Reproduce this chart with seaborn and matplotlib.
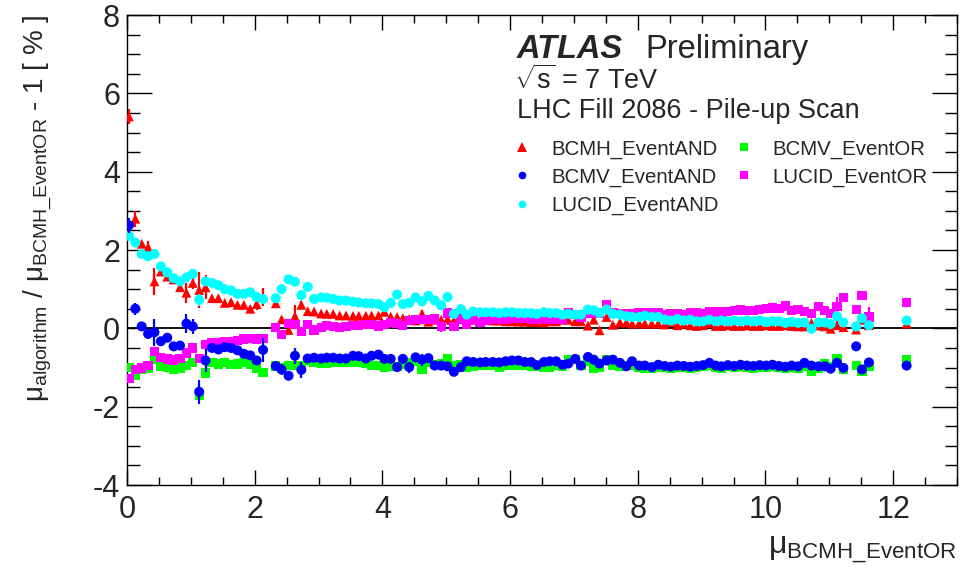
import matplotlib
matplotlib.use("Agg")
import matplotlib.pyplot as plt
from matplotlib.lines import Line2D
from matplotlib.ticker import MultipleLocator
import seaborn as sns
import pandas as pd

# mu_BCMH_EventOR for every measurement step of the pile-up scan
mu = [
    0.03, 0.13, 0.23, 0.33, 0.43, 0.53, 0.63, 0.73, 0.83, 0.93, 1.03, 1.13, 1.23, 1.33, 1.43, 1.53, 1.63, 1.73, 1.83, 1.93, 2.03, 2.13,
    2.33, 2.42, 2.53, 2.63, 2.73, 2.83, 2.93, 3.04, 3.13, 3.23, 3.33, 3.43, 3.54, 3.63, 3.74, 3.83, 3.94, 4.03, 4.13,
    4.23, 4.32, 4.42, 4.52, 4.62, 4.72, 4.82, 4.92, 5.02, 5.12, 5.23, 5.32, 5.42, 5.53, 5.62, 5.73, 5.83, 5.93, 6.03, 6.13, 6.23,
    6.33, 6.42, 6.53, 6.62, 6.72, 6.82, 6.91, 7.02, 7.11, 7.22, 7.31, 7.40, 7.51, 7.61, 7.72, 7.82, 7.91, 8.02, 8.11, 8.22, 8.32,
    8.42, 8.52, 8.62, 8.72, 8.82, 8.92, 9.02, 9.12, 9.22, 9.31, 9.41, 9.51, 9.61, 9.71, 9.81, 9.91, 10.01, 10.11, 10.21, 10.31, 10.41, 10.51,
    10.61, 10.72, 10.83, 10.93, 11.02, 11.12, 11.22, 11.42, 11.51, 11.62, 12.21,
]

bcmh_and = [
    5.41, 2.80, 2.16, 2.07, 1.20, 1.45, 1.32, 1.25, 1.05, 0.91, 1.16, 0.98, 1.05, 0.77, 0.77, 0.65, 0.67, 0.60, 0.60, 0.50, 0.62, 0.80,
    0.64, 0.23, -0.04, 0.31, 0.60, 0.44, 0.43, 0.38, 0.37, 0.37, 0.33, 0.33, 0.32, 0.32, 0.32, 0.33, 0.33, 0.42, 0.30,
    0.29, 0.26, 0.24, 0.20, 0.37, 0.17, 0.22, 0.22, 0.24, 0.20, 0.38, 0.20, 0.22, 0.20, 0.22, 0.20, 0.20, 0.18, 0.18, 0.17, 0.17,
    0.16, 0.16, 0.15, 0.18, 0.18, 0.22, 0.22, 0.18, 0.18, 0.07, 0.22, -0.05, 0.29, 0.09, 0.15, 0.15, 0.12, 0.12, 0.12, 0.12, 0.12,
    0.10, 0.16, 0.08, 0.12, 0.08, 0.06, 0.08, 0.14, 0.06, 0.06, 0.08, 0.06, 0.06, 0.08, 0.06, 0.06, 0.08, 0.06, 0.06, 0.08, 0.06, 0.05,
    0.05, 0.14, 0.07, 0.05, -0.01, 0.08, 0.03, -0.03, 0.22, 0.08, 0.12,
]
bcmh_and_err = [
    0.20, 0.20, 0.08, 0.15, 0.35, 0.05, 0.05, 0.05, 0.08, 0.25, 0.15, 0.45, 0.30, 0.05, 0.05, 0.05, 0.05, 0.05, 0.05, 0.05, 0.15, 0.22,
    0.05, 0.06, 0.06, 0.28, 0.10, 0.05, 0.05, 0.05, 0.05, 0.05, 0.05, 0.05, 0.05, 0.05, 0.05, 0.05, 0.05, 0.05, 0.05,
    0.05, 0.05, 0.05, 0.05, 0.10, 0.10, 0.08, 0.05, 0.15, 0.05, 0.05, 0.05, 0.05, 0.05, 0.05, 0.05, 0.05, 0.05, 0.05, 0.05, 0.05,
    0.05, 0.05, 0.05, 0.05, 0.05, 0.05, 0.05, 0.05, 0.05, 0.05, 0.05, 0.08, 0.05, 0.05, 0.05, 0.05, 0.05, 0.05, 0.05, 0.05, 0.05,
    0.05, 0.05, 0.05, 0.05, 0.05, 0.05, 0.05, 0.05, 0.05, 0.05, 0.05, 0.05, 0.05, 0.05, 0.05, 0.05, 0.05, 0.05, 0.05, 0.05, 0.05, 0.05,
    0.05, 0.05, 0.05, 0.05, 0.05, 0.10, 0.05, 0.05, 0.05, 0.05, 0.05,
]

bcmv_and = [
    2.63, 0.50, 0.05, -0.14, -0.10, -0.33, -0.24, -0.46, -0.44, 0.12, 0.05, -1.62, -0.82, -0.50, -0.54, -0.48, -0.50, -0.56, -0.65, -0.69, -0.82, -0.55,
    -0.96, -1.05, -1.21, -0.70, -1.06, -0.77, -0.75, -0.77, -0.75, -0.75, -0.77, -0.77, -0.70, -0.71, -0.77, -0.70, -0.67, -0.78, -0.78,
    -0.99, -0.78, -0.99, -0.74, -0.80, -0.76, -0.95, -0.95, -0.97, -1.11, -0.99, -0.84, -0.86, -0.87, -0.86, -0.86, -0.87, -0.84, -0.82, -0.82, -0.86,
    -0.86, -0.94, -0.86, -0.84, -0.84, -0.93, -0.90, -0.78, -0.95, -0.73, -0.80, -0.90, -0.82, -0.80, -0.88, -0.97, -0.84, -0.95, -0.95, -0.99, -0.93,
    -0.96, -0.98, -0.95, -0.96, -0.98, -0.96, -0.94, -0.88, -0.95, -0.97, -0.94, -0.96, -0.93, -0.95, -0.96, -0.94, -0.95, -0.93, -0.96, -0.98, -0.95, -0.97,
    -0.88, -0.95, -0.97, -0.97, -1.03, -0.88, -1.01, -0.46, -1.05, -0.87, -0.95,
]
bcmv_and_err = [
    0.20, 0.15, 0.05, 0.12, 0.35, 0.05, 0.05, 0.05, 0.05, 0.25, 0.20, 0.30, 0.30, 0.05, 0.05, 0.05, 0.05, 0.05, 0.05, 0.05, 0.05, 0.30,
    0.05, 0.15, 0.12, 0.20, 0.20, 0.05, 0.05, 0.05, 0.05, 0.05, 0.05, 0.05, 0.05, 0.05, 0.05, 0.05, 0.05, 0.05, 0.05,
    0.05, 0.05, 0.14, 0.05, 0.15, 0.05, 0.10, 0.05, 0.05, 0.05, 0.05, 0.05, 0.05, 0.05, 0.05, 0.05, 0.05, 0.05, 0.05, 0.05, 0.05,
    0.05, 0.05, 0.05, 0.05, 0.05, 0.05, 0.05, 0.05, 0.05, 0.05, 0.05, 0.05, 0.05, 0.05, 0.05, 0.05, 0.05, 0.05, 0.05, 0.05, 0.05,
    0.05, 0.05, 0.05, 0.05, 0.05, 0.05, 0.05, 0.05, 0.05, 0.05, 0.05, 0.05, 0.05, 0.05, 0.05, 0.05, 0.05, 0.05, 0.05, 0.05, 0.05, 0.05,
    0.05, 0.05, 0.05, 0.05, 0.05, 0.05, 0.05, 0.05, 0.05, 0.05, 0.05,
]

lucid_and = [
    2.36, 2.19, 1.90, 1.84, 1.90, 1.58, 1.43, 1.28, 1.20, 1.30, 1.39, 0.73, 1.20, 1.16, 1.10, 1.00, 0.97, 0.88, 0.88, 0.92, 0.80, 0.75,
    0.77, 1.00, 1.25, 1.19, 0.85, 1.06, 0.75, 0.79, 0.78, 0.75, 0.71, 0.71, 0.68, 0.66, 0.64, 0.64, 0.62, 0.54, 0.65,
    0.86, 0.62, 0.65, 0.79, 0.69, 0.83, 0.71, 0.59, 0.80, 0.37, 0.49, 0.35, 0.43, 0.41, 0.41, 0.41, 0.39, 0.41, 0.41, 0.39, 0.39,
    0.39, 0.37, 0.41, 0.39, 0.39, 0.35, 0.37, 0.35, 0.35, 0.48, 0.46, 0.39, 0.48, 0.37, 0.35, 0.31, 0.29, 0.29, 0.32, 0.29, 0.29,
    0.22, 0.20, 0.24, 0.20, 0.22, 0.18, 0.18, 0.22, 0.18, 0.20, 0.18, 0.20, 0.18, 0.20, 0.18, 0.20, 0.16, 0.18, 0.18, 0.14, 0.16, 0.14,
    0.15, -0.01, 0.15, 0.15, 0.11, 0.31, 0.15, 0.05, 0.26, 0.08, 0.20,
]
lucid_and_err = [
    0.03, 0.03, 0.03, 0.03, 0.03, 0.03, 0.03, 0.03, 0.03, 0.03, 0.03, 0.15, 0.03, 0.03, 0.03, 0.03, 0.03, 0.03, 0.03, 0.03, 0.03, 0.03,
    0.03, 0.03, 0.03, 0.03, 0.08, 0.03, 0.03, 0.03, 0.03, 0.03, 0.03, 0.03, 0.03, 0.03, 0.03, 0.03, 0.03, 0.03, 0.03,
    0.03, 0.03, 0.03, 0.03, 0.03, 0.03, 0.03, 0.03, 0.03, 0.03, 0.03, 0.03, 0.03, 0.03, 0.03, 0.03, 0.03, 0.03, 0.03, 0.03, 0.03,
    0.03, 0.03, 0.03, 0.03, 0.03, 0.03, 0.03, 0.03, 0.03, 0.03, 0.03, 0.03, 0.03, 0.03, 0.03, 0.03, 0.03, 0.03, 0.03, 0.03, 0.03,
    0.03, 0.03, 0.03, 0.03, 0.03, 0.03, 0.03, 0.03, 0.03, 0.03, 0.03, 0.03, 0.03, 0.03, 0.03, 0.03, 0.03, 0.03, 0.03, 0.03, 0.03, 0.03,
    0.03, 0.03, 0.03, 0.03, 0.03, 0.08, 0.03, 0.03, 0.03, 0.10, 0.03,
]

bcmv_or = [
    -0.99, -1.19, -1.04, -1.02, -0.78, -0.97, -0.99, -1.05, -1.01, -0.94, -0.88, -1.70, -1.14, -0.88, -0.91, -0.88, -0.93, -0.91, -0.88, -0.93, -1.01, -1.13,
    -0.96, -1.00, -0.94, -0.94, -0.96, -0.82, -0.87, -0.89, -0.89, -0.88, -0.88, -0.87, -0.87, -0.88, -0.89, -0.94, -0.95, -1.00, -0.96,
    -0.97, -0.91, -0.88, -0.84, -1.05, -0.88, -0.93, -0.90, -0.78, -0.95, -0.93, -0.99, -0.97, -0.95, -0.95, -0.95, -0.99, -0.95, -0.95, -0.95, -0.95,
    -0.97, -0.97, -0.99, -0.99, -0.95, -0.97, -0.80, -0.80, -0.95, -0.84, -1.01, -0.99, -0.80, -0.95, -0.97, -0.95, -0.95, -0.99, -1.01, -1.01, -0.99,
    -1.00, -1.01, -0.99, -1.00, -1.02, -0.99, -0.98, -0.95, -0.99, -1.01, -0.98, -1.00, -0.98, -0.99, -1.01, -0.99, -1.00, -0.98, -0.99, -1.02, -1.00, -1.01,
    -0.97, -1.10, -1.01, -0.90, -0.97, -0.77, -1.05, -0.95, -1.11, -0.97, -0.80,
]
bcmv_or_err = [
    0.03, 0.03, 0.03, 0.03, 0.03, 0.03, 0.03, 0.03, 0.03, 0.03, 0.03, 0.10, 0.03, 0.03, 0.03, 0.03, 0.03, 0.03, 0.03, 0.03, 0.03, 0.03,
    0.03, 0.03, 0.03, 0.03, 0.03, 0.03, 0.03, 0.03, 0.03, 0.03, 0.03, 0.03, 0.03, 0.03, 0.03, 0.03, 0.03, 0.03, 0.03,
    0.03, 0.03, 0.03, 0.03, 0.03, 0.03, 0.03, 0.03, 0.03, 0.03, 0.03, 0.03, 0.03, 0.03, 0.03, 0.03, 0.03, 0.03, 0.03, 0.03, 0.03,
    0.03, 0.03, 0.03, 0.03, 0.03, 0.03, 0.03, 0.03, 0.03, 0.03, 0.03, 0.03, 0.03, 0.03, 0.03, 0.03, 0.03, 0.03, 0.03, 0.03, 0.03,
    0.03, 0.03, 0.03, 0.03, 0.03, 0.03, 0.03, 0.03, 0.03, 0.03, 0.03, 0.03, 0.03, 0.03, 0.03, 0.03, 0.03, 0.03, 0.03, 0.03, 0.03, 0.03,
    0.03, 0.03, 0.03, 0.03, 0.03, 0.03, 0.03, 0.03, 0.03, 0.03, 0.03,
]

lucid_or = [
    -1.28, -1.05, -1.01, -0.94, -0.60, -0.74, -0.78, -0.81, -0.77, -0.63, -0.50, -0.76, -0.42, -0.37, -0.37, -0.35, -0.35, -0.31, -0.27, -0.25, -0.27, -0.25,
    0.02, -0.15, 0.13, 0.10, -0.08, 0.09, -0.04, 0.03, 0.07, 0.04, 0.02, 0.04, 0.07, 0.07, 0.09, 0.09, 0.06, 0.09, 0.15,
    0.12, 0.07, 0.20, 0.22, 0.22, 0.22, 0.24, 0.05, 0.39, 0.05, 0.24, 0.11, 0.22, 0.14, 0.20, 0.22, 0.22, 0.22, 0.25, 0.25, 0.26,
    0.24, 0.24, 0.26, 0.24, 0.24, 0.24, 0.39, 0.35, 0.29, 0.39, 0.39, 0.39, 0.60, 0.39, 0.37, 0.37, 0.37, 0.39, 0.41, 0.41, 0.41,
    0.36, 0.38, 0.38, 0.36, 0.40, 0.40, 0.38, 0.44, 0.42, 0.42, 0.44, 0.46, 0.47, 0.46, 0.46, 0.48, 0.50, 0.52, 0.50, 0.57, 0.46, 0.48,
    0.43, 0.37, 0.56, 0.45, 0.37, 0.56, 0.79, 0.48, 0.84, 0.29, 0.65,
]
lucid_or_err = [
    0.03, 0.03, 0.03, 0.03, 0.03, 0.03, 0.03, 0.03, 0.03, 0.03, 0.03, 0.03, 0.03, 0.03, 0.03, 0.03, 0.03, 0.03, 0.03, 0.03, 0.03, 0.03,
    0.03, 0.03, 0.03, 0.03, 0.03, 0.03, 0.03, 0.03, 0.03, 0.03, 0.03, 0.03, 0.03, 0.03, 0.03, 0.03, 0.03, 0.03, 0.03,
    0.03, 0.03, 0.03, 0.03, 0.03, 0.03, 0.03, 0.15, 0.03, 0.03, 0.03, 0.03, 0.03, 0.03, 0.03, 0.03, 0.03, 0.03, 0.03, 0.03, 0.03,
    0.03, 0.03, 0.03, 0.03, 0.03, 0.03, 0.03, 0.03, 0.03, 0.03, 0.03, 0.03, 0.06, 0.03, 0.03, 0.03, 0.03, 0.03, 0.03, 0.03, 0.03,
    0.03, 0.03, 0.03, 0.03, 0.03, 0.03, 0.03, 0.03, 0.03, 0.03, 0.03, 0.03, 0.03, 0.03, 0.03, 0.03, 0.03, 0.03, 0.03, 0.03, 0.03, 0.03,
    0.03, 0.03, 0.03, 0.03, 0.03, 0.25, 0.03, 0.03, 0.05, 0.25, 0.03,
]

# (label, values, errors, colour, marker, scatter size, legend marker size), in drawing order
series = [
    ("BCMH_EventAND", bcmh_and, bcmh_and_err, "#ff0000", "^", 50, 6.5),
    ("BCMV_EventOR", bcmv_or, bcmv_or_err, "#00ff00", "s", 44, 5.5),
    ("LUCID_EventOR", lucid_or, lucid_or_err, "#ff00ff", "s", 44, 5.5),
    ("LUCID_EventAND", lucid_and, lucid_and_err, "#00ffff", "o", 52, 5.5),
    ("BCMV_EventAND", bcmv_and, bcmv_and_err, "#0000ff", "o", 52, 5.5),
]
legend_order = ["BCMH_EventAND", "BCMV_EventAND", "LUCID_EventAND", "BCMV_EventOR", "LUCID_EventOR"]

sns.set_style("ticks")
plt.rcParams["font.family"] = ["Liberation Sans", "DejaVu Sans"]
plt.rcParams["mathtext.fontset"] = "custom"
plt.rcParams["mathtext.rm"] = "Liberation Sans"
plt.rcParams["mathtext.it"] = "Liberation Sans:italic"
plt.rcParams["mathtext.bf"] = "Liberation Sans:bold"
plt.rcParams["axes.unicode_minus"] = False

fig = plt.figure(figsize=(9.63, 5.67), dpi=100)
ax = fig.add_axes([0.1319, 0.1446, 0.8619, 0.8289])

handles = {}
for i, (name, vals, errs, color, marker, size, lsize) in enumerate(series):
    df = pd.DataFrame({"mu": mu, "val": vals, "err": errs})
    ax.vlines(df["mu"], df["val"] - df["err"], df["val"] + df["err"],
              color=color, lw=1.6, zorder=3 + 2 * i)
    sns.scatterplot(data=df, x="mu", y="val", marker=marker, color=color,
                    s=size, edgecolor="none", linewidth=0, ax=ax,
                    zorder=4 + 2 * i, legend=False)
    handles[name] = Line2D([], [], marker=marker, color=color, linestyle="none",
                           markersize=lsize, markeredgewidth=0)

ax.axhline(0, color="black", lw=1.3, zorder=2)

ax.set_xlim(0, 13)
ax.set_ylim(-4, 8)
ax.xaxis.set_major_locator(MultipleLocator(2))
ax.xaxis.set_minor_locator(MultipleLocator(0.5))
ax.yaxis.set_major_locator(MultipleLocator(2))
ax.yaxis.set_minor_locator(MultipleLocator(0.5))
ax.tick_params(which="both", direction="in", top=True, right=True,
               width=1.0, color="black", labelsize=22)
ax.tick_params(axis="x", which="major", length=11, pad=7)
ax.tick_params(axis="x", which="minor", length=6)
ax.tick_params(axis="y", which="major", length=18, pad=5)
ax.tick_params(axis="y", which="minor", length=9)
for sp in ax.spines.values():
    sp.set_color("black")
    sp.set_linewidth(1.0)

ax.set_xlabel(r"$\mathrm{μ}_{\mathrm{BCMH\_EventOR}}$", fontsize=23, ha="right")
ax.xaxis.set_label_coords(1.0, -0.105)
ax.set_ylabel(r"$\mathrm{μ}_{\mathrm{algorithm}}$ / $\mathrm{μ}_{\mathrm{BCMH\_EventOR}}$ - 1 [ % ]",
              fontsize=20, ha="right")
ax.yaxis.set_label_coords(-0.088, 1.0)

ax.text(0.470, 0.9085, "ATLAS", transform=ax.transAxes, fontsize=23.5,
        fontweight="bold", fontstyle="italic", va="baseline")
ax.text(0.624, 0.9085, "Preliminary", transform=ax.transAxes, fontsize=23.5,
        va="baseline")
ax.text(0.466, 0.8430, r"$\sqrt{\mathrm{s}}$ = 7 TeV", transform=ax.transAxes,
        fontsize=19.5, va="baseline")
ax.text(0.470, 0.7810, "LHC Fill 2086 - Pile-up Scan", transform=ax.transAxes,
        fontsize=19.5, va="baseline")

ax.legend([handles[n] for n in legend_order], legend_order, ncol=2,
          loc="upper left", bbox_to_anchor=(0.4639, 0.7356), frameon=False,
          fontsize=14.7, borderpad=0, borderaxespad=0, handlelength=1.0,
          handletextpad=0.91, columnspacing=0.75, labelspacing=0.44)

fig.savefig("out.png", dpi=100)
